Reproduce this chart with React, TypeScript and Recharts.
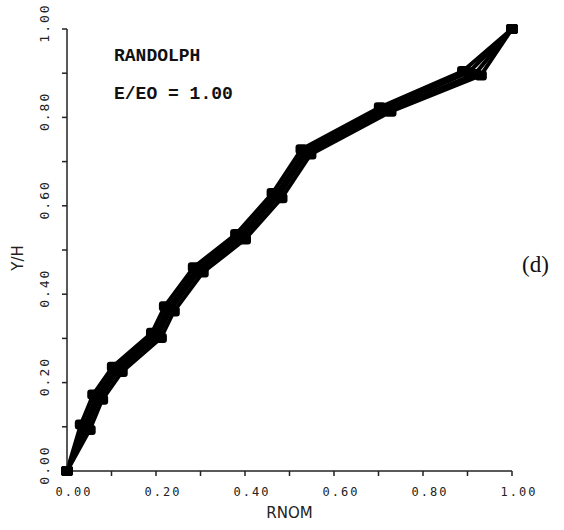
import { LineChart, Line, XAxis, YAxis, Label } from "recharts";

// four traces of Y/H against RNOM (E/EO = 1.00)
const rnomA = [0, 0.031, 0.059, 0.103, 0.191, 0.22, 0.285, 0.38, 0.462, 0.527, 0.703, 0.89, 1.0];
const yhA = [0, 0.105, 0.173, 0.236, 0.313, 0.373, 0.461, 0.536, 0.629, 0.728, 0.823, 0.905, 1.0];

const rnomB = [0, 0.038, 0.066, 0.11, 0.198, 0.227, 0.292, 0.387, 0.469, 0.534, 0.711, 0.903, 1.0];
const yhB = [0, 0.101, 0.169, 0.232, 0.309, 0.369, 0.457, 0.532, 0.625, 0.724, 0.82, 0.902, 1.0];

const rnomC = [0, 0.044, 0.072, 0.116, 0.204, 0.233, 0.298, 0.393, 0.475, 0.54, 0.719, 0.917, 1.0];
const yhC = [0, 0.097, 0.165, 0.228, 0.305, 0.365, 0.453, 0.528, 0.621, 0.72, 0.816, 0.898, 1.0];

const rnomD = [0, 0.051, 0.079, 0.123, 0.211, 0.24, 0.305, 0.4, 0.482, 0.547, 0.727, 0.93, 1.0];
const yhD = [0, 0.093, 0.161, 0.224, 0.301, 0.361, 0.449, 0.524, 0.617, 0.716, 0.813, 0.895, 1.0];

const axisTicks = [0, 0.1, 0.2, 0.3, 0.4, 0.5, 0.6, 0.7, 0.8, 0.9, 1.0];
const labelValues = [0, 0.2, 0.4, 0.6, 0.8, 1.0];
const labelTexts = ["0.00", "0.20", "0.40", "0.60", "0.80", "1.00"];

const toPoints = (xs: number[], ys: number[]) => xs.map((x, i) => ({ x, y: ys[i] }));
const series = [
  toPoints(rnomA, yhA),
  toPoints(rnomB, yhB),
  toPoints(rnomC, yhC),
  toPoints(rnomD, yhD),
];

const ink = "#000";
const tickFont = { fontFamily: "DejaVu Sans Mono", fontSize: 12, letterSpacing: 2, fill: "#222" };

function labelFor(v: number) {
  const i = labelValues.findIndex((l) => Math.abs(l - v) < 1e-6);
  return i < 0 ? null : labelTexts[i];
}

function XTick(props: any) {
  const { x, y, payload } = props;
  const t = labelFor(payload.value);
  if (!t) return <g />;
  return (
    <text x={x + 7} y={y + 20} textAnchor="middle" {...tickFont}>
      {t}
    </text>
  );
}

function YTick(props: any) {
  const { x, y, payload } = props;
  const t = labelFor(payload.value);
  if (!t) return <g />;
  const tx = x - 13;
  const ty = y - 6;
  return (
    <text x={tx} y={ty} textAnchor="middle" transform={`rotate(-90, ${tx}, ${ty})`} {...tickFont} fontSize={13}>
      {t}
    </text>
  );
}

function Marker(props: any) {
  const { cx, cy, index } = props;
  return <rect key={index} x={cx - 6} y={cy - 5} width={12} height={10} rx={3} fill={ink} />;
}

export default function App() {
  return (
    <div style={{ position: "absolute", left: 0, top: 0, width: 564, height: 530, background: "#fff" }}>
      <LineChart width={564} height={530} margin={{ top: 29, right: 52, left: 0, bottom: 0 }}>
        <XAxis
          type="number"
          dataKey="x"
          domain={[0, 1]}
          ticks={axisTicks}
          interval={0}
          height={59}
          tickSize={5}
          tickMargin={0}
          stroke="#222"
          strokeWidth={1.5}
          tick={<XTick />}
        >
          <Label
            value="RNOM"
            position="insideBottom"
            offset={12}
            style={{ fontFamily: "DejaVu Sans", fontSize: 15, fill: "#222" }}
          />
        </XAxis>
        <YAxis
          type="number"
          dataKey="y"
          domain={[0, 1]}
          ticks={axisTicks}
          interval={0}
          width={67}
          tickSize={5}
          tickMargin={0}
          stroke="#222"
          strokeWidth={1.5}
          tick={<YTick />}
        />
        {series.map((d, i) => (
          <Line
            key={i}
            data={d}
            dataKey="y"
            type="linear"
            stroke={ink}
            strokeWidth={4}
            dot={<Marker />}
            activeDot={false}
            isAnimationActive={false}
          />
        ))}
      </LineChart>
      <div
        style={{
          position: "absolute",
          left: 18,
          top: 258,
          transform: "translate(-50%, -50%) rotate(-90deg)",
          fontFamily: "DejaVu Sans",
          fontSize: 15,
          color: "#222",
          whiteSpace: "nowrap",
        }}
      >
        Y/H
      </div>
      <div
        style={{
          position: "absolute",
          left: 114,
          top: 46,
          fontFamily: "Liberation Mono",
          fontWeight: "bold",
          fontSize: 18,
          color: "#111",
          whiteSpace: "pre",
        }}
      >
        RANDOLPH
      </div>
      <div
        style={{
          position: "absolute",
          left: 114,
          top: 84,
          fontFamily: "Liberation Mono",
          fontWeight: "bold",
          fontSize: 18,
          color: "#111",
          whiteSpace: "pre",
        }}
      >
        E/EO = 1.00
      </div>
      <div
        style={{
          position: "absolute",
          left: 522,
          top: 252,
          fontFamily: "Liberation Serif",
          fontSize: 23,
          color: "#111",
          whiteSpace: "nowrap",
        }}
      >
        (d)
      </div>
    </div>
  );
}
